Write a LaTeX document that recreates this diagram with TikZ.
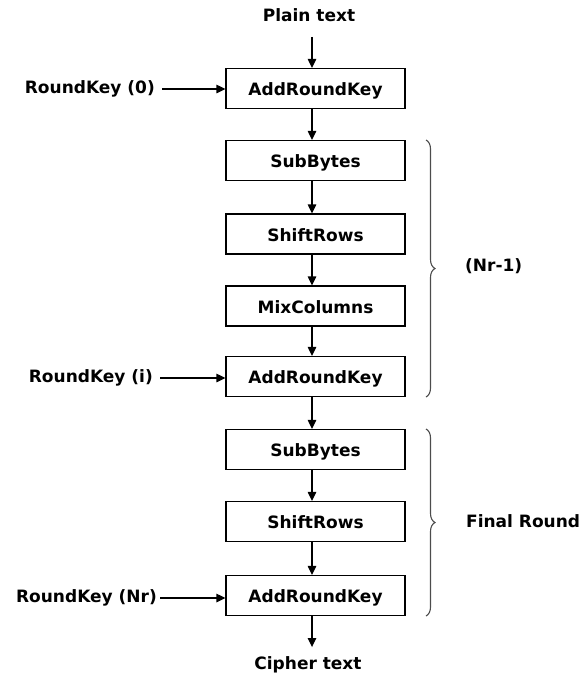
\documentclass[tikz,border=0pt]{standalone}
\usepackage{fontspec}
\setmainfont{DejaVu Sans}
\usetikzlibrary{arrows.meta,decorations.pathreplacing}
\tikzset{
  stage/.style={draw=black, line width=1.2pt, minimum width=179pt, minimum height=40pt, inner sep=0pt, text height=18pt, text depth=3.5pt, font=\fontsize{17}{20}\bfseries\selectfont},
  lbl/.style={inner sep=0pt, text height=12pt, text depth=3.5pt, font=\fontsize{17}{20}\bfseries\selectfont},
  arr/.style={line width=1.2pt, -{Triangle[length=9pt,width=8.5pt]}},
  brc/.style={draw=black!70, line width=1.1pt, decorate, decoration={brace, amplitude=9pt}}
}
\begin{document}
\begin{tikzpicture}[x=1pt,y=-1pt]
\path[use as bounding box] (0,0) rectangle (583,678);
\coordinate (ax) at (312,0);
\node[lbl] (plain) at (309,17) {Plain text};
\node[stage] (ark0) at (315.5,88.5) {AddRoundKey};
\node[stage] (sb1) at (315.5,160.5) {SubBytes};
\node[stage] (sr1) at (315.5,234) {ShiftRows};
\node[stage] (mc) at (315.5,306) {MixColumns};
\node[stage] (arki) at (315.5,376.5) {AddRoundKey};
\node[stage] (sb2) at (315.5,449.5) {SubBytes};
\node[stage] (sr2) at (315.5,521.5) {ShiftRows};
\node[stage] (arkn) at (315.5,595.5) {AddRoundKey};
\node[lbl] (cipher) at (308,665) {Cipher text};
\node[lbl, anchor=east] (rk0) at (155,89) {RoundKey (0)};
\node[lbl, anchor=east] (rki) at (153,378) {RoundKey (i)};
\node[lbl, anchor=east] (rkn) at (157,598) {RoundKey (Nr)};
\node[lbl, anchor=west] (nr1) at (465,267) {(Nr-1)};
\node[lbl, anchor=west] (final) at (466,523) {Final Round};
\coordinate (b1t) at (426,140);
\coordinate (b1b) at (426,397);
\coordinate (b2t) at (426,429);
\coordinate (b2b) at (426,616);
\draw[arr, shorten <=12pt] (plain.south -| ax) -- (ark0.north -| ax);
\draw[arr] (ark0.south -| ax) -- (sb1.north -| ax);
\draw[arr] (sb1.south -| ax) -- (sr1.north -| ax);
\draw[arr] (sr1.south -| ax) -- (mc.north -| ax);
\draw[arr] (mc.south -| ax) -- (arki.north -| ax);
\draw[arr] (arki.south -| ax) -- (sb2.north -| ax);
\draw[arr] (sb2.south -| ax) -- (sr2.north -| ax);
\draw[arr] (sr2.south -| ax) -- (arkn.north -| ax);
\draw[arr, shorten >=10pt] (arkn.south -| ax) -- (cipher.north -| ax);
\draw[arr, shorten <=7pt] (rk0.east) -- (rk0.east -| ark0.west);
\draw[arr, shorten <=7pt] (rki.east) -- (rki.east -| arki.west);
\draw[arr, shorten <=3pt] (rkn.east) -- (rkn.east -| arkn.west);
\draw[brc] (b1t) -- (b1b);
\draw[brc] (b2t) -- (b2b);
\end{tikzpicture}
\end{document}
